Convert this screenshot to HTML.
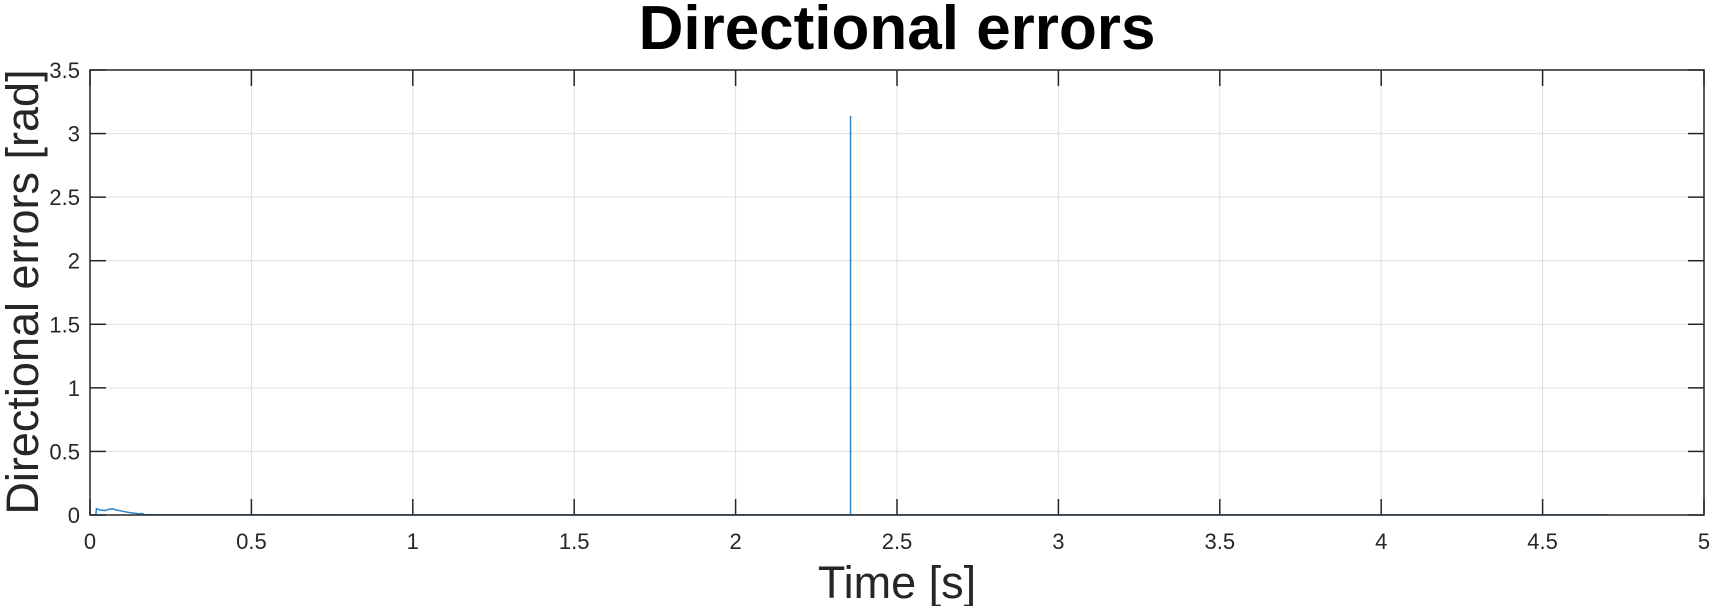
<!DOCTYPE html>
<html><head><meta charset="utf-8"><style>
body{margin:0;background:#fff;}
svg{display:block;font-family:"Liberation Sans",sans-serif;}
</style></head><body>
<svg id="c" width="1711" height="606">
<text x="897" y="49" text-anchor="middle" font-size="62" font-weight="bold" fill="#000">Directional errors</text>
<g id="grid"></g><g id="ticks"></g><g id="series"></g>
<rect x="90" y="70" width="1614" height="445" fill="none" stroke="#262626" stroke-width="1.5"/>
<text x="897" y="598" text-anchor="middle" font-size="45" fill="#262626">Time [s]</text>
<text transform="translate(38,292) rotate(-90)" text-anchor="middle" font-size="45" fill="#262626">Directional errors [rad]</text>
</svg>
<script>
const xTicks=[0,0.5,1,1.5,2,2.5,3,3.5,4,4.5,5];
const yTicks=[0,0.5,1,1.5,2,2.5,3,3.5];
const times=[0,0.018,0.02,0.03,0.045,0.06,0.07,0.08,0.1,0.12,0.15,0.16,0.165,0.17,0.3,1,2,2.356,2.356,2.356,2.356,2.357,3,4,4.705];
const errors=[0,0.0,0.05,0.04,0.035,0.045,0.05,0.04,0.03,0.02,0.01,0.012,0.008,0.002,0.002,0.001,0.001,0.001,1.95,3.14,0.001,0.001,0.001,0.001,0.001];
const L=90,R=1704,T=70,B=515;
const xs=v=>L+(v-0)/5*(R-L), ys=v=>B-(v-0)/3.5*(B-T);
const NS='http://www.w3.org/2000/svg';
const g=document.getElementById('grid'),tk=document.getElementById('ticks'),s=document.getElementById('series');
function mk(p,tag,a){const e=document.createElementNS(NS,tag);for(const k in a)e.setAttribute(k,a[k]);p.appendChild(e);return e;}
xTicks.forEach(v=>{const x=xs(v);
 const l=mk(g,'line',{x1:x,x2:x,y1:T,y2:B,stroke:'#dfdfdf','stroke-width':1});
 
 
 mk(tk,'line',{x1:x,x2:x,y1:B,y2:B-16,stroke:'#262626','stroke-width':1.5});
 mk(tk,'line',{x1:x,x2:x,y1:T,y2:T+16,stroke:'#262626','stroke-width':1.5});
 const t=mk(tk,'text',{x:x,y:B+34,'text-anchor':'middle','font-size':22,fill:'#262626'});
 t.textContent=String(v);
 
 
});
yTicks.forEach(v=>{const y=ys(v);
 const l=mk(g,'line',{x1:L,x2:R,y1:y,y2:y,stroke:'#dfdfdf','stroke-width':1});
 
 
 mk(tk,'line',{x1:L,x2:L+16,y1:y,y2:y,stroke:'#262626','stroke-width':1.5});
 mk(tk,'line',{x1:R,x2:R-16,y1:y,y2:y,stroke:'#262626','stroke-width':1.5});
 const t=mk(tk,'text',{x:L-10,y:y+8,'text-anchor':'end','font-size':22,fill:'#262626'});
 t.textContent=String(v);
 
 
});
const pts=times.map((t,i)=>xs(t).toFixed(2)+','+ys(errors[i]).toFixed(2)).join(' ');
const pl=mk(s,'polyline',{points:pts,fill:'none',stroke:'#2f86c9','stroke-width':1.5});


</script>
</body></html>
